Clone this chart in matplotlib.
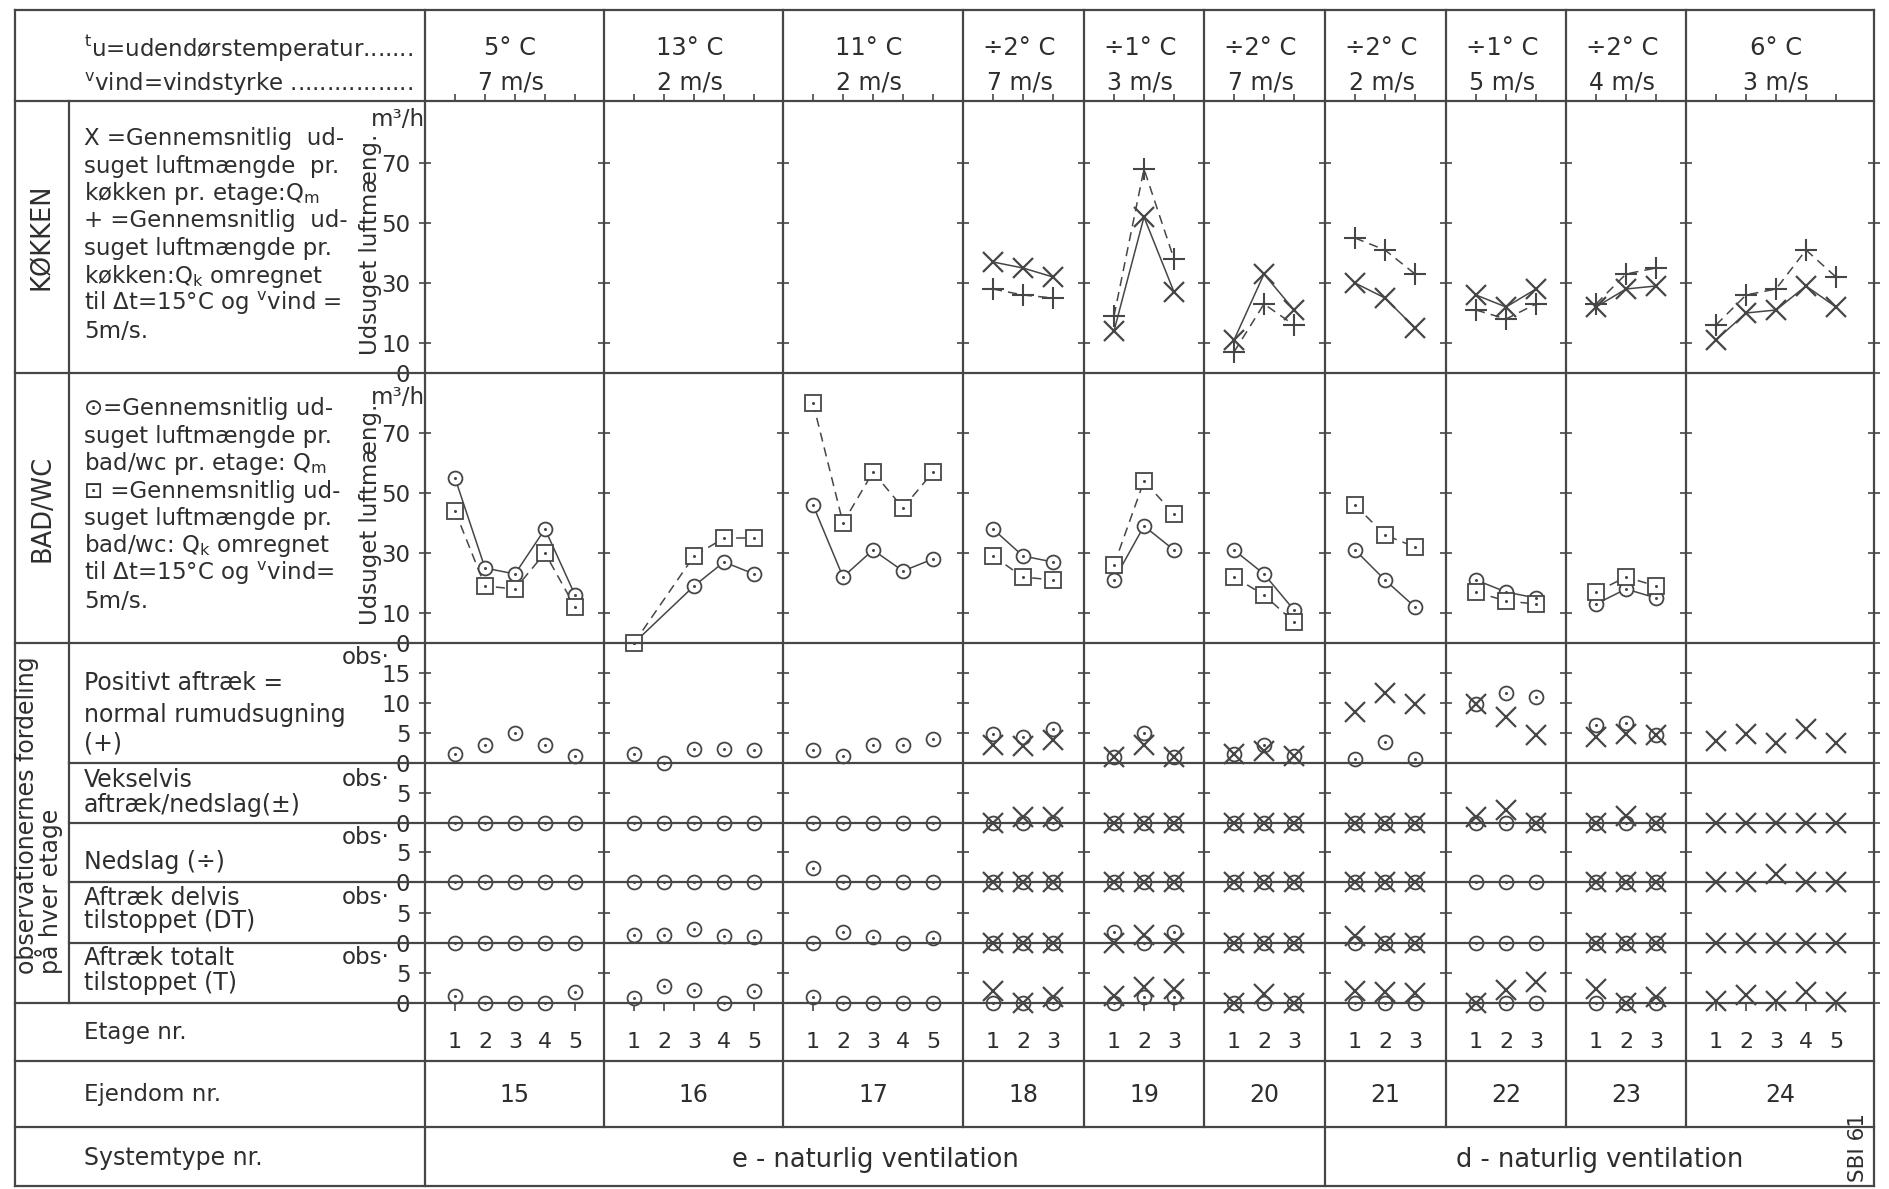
import numpy as np
import matplotlib
matplotlib.use("Agg")
import matplotlib.pyplot as plt
from matplotlib.lines import Line2D

plt.rcParams['font.family'] = ['DejaVu Sans']
plt.rcParams['mathtext.fontset'] = 'dejavusans'

# ------------------------------------------------------------------ data
properties = [15, 16, 17, 18, 19, 20, 21, 22, 23, 24]
floor_counts = [5, 5, 5, 3, 3, 3, 3, 3, 3, 5]
outdoor_temps = ["5° C", "13° C", "11° C", "÷2° C", "÷1° C",
                 "÷2° C", "÷2° C", "÷1° C", "÷2° C", "6° C"]
wind_speeds = ["7 m/s", "2 m/s", "2 m/s", "7 m/s", "3 m/s",
               "7 m/s", "2 m/s", "5 m/s", "4 m/s", "3 m/s"]
system_types = ["e - naturlig ventilation", "d - naturlig ventilation"]
system_first_col = [0, 6]

# kitchen, m3/h per floor (X = measured Qm, + = corrected Qk)
kitchen_qm = [None, None, None, [37, 35, 32], [14, 52, 27], [11, 33, 21],
              [30, 25, 15], [26, 22, 28], [22, 28, 29], [11, 20, 21, 29, 22]]
kitchen_qk = [None, None, None, [28, 26, 25], [19, 68, 38], [7, 23, 16],
              [45, 41, 33], [21, 18, 23], [23, 33, 35], [16, 26, 28, 41, 32]]

# bath/wc, m3/h per floor (circle = measured Qm, square = corrected Qk)
bath_qm = [[55, 25, 23, 38, 16], [0, None, 19, 27, 23], [46, 22, 31, 24, 28],
           [38, 29, 27], [21, 39, 31], [31, 23, 11], [31, 21, 12],
           [21, 17, 15], [13, 18, 15], None]
bath_qk = [[44, 19, 18, 30, 12], [0, None, 29, 35, 35], [80, 40, 57, 45, 57],
           [29, 22, 21], [26, 54, 43], [22, 16, 7], [46, 36, 32],
           [17, 14, 13], [17, 22, 19], None]

# observation counts per floor: bath (circle) and kitchen (X)
pos_bath = [[1.5, 3, 5, 3, 1.2], [1.5, 0, 2.3, 2.3, 2.2], [2.1, 1.2, 3, 3, 4],
            [4.8, 4.3, 5.7], [1, 5, 1], [1.5, 3, 1.2], [0.7, 3.5, 0.6],
            [9.8, 11.6, 11], [6.3, 6.7, 4.7], None]
pos_kitchen = [None, None, None, [3, 2.8, 3.8], [1, 3, 1], [1.5, 2, 1.2],
               [8.5, 11.6, 9.8], [9.8, 7.7, 4.7], [4.4, 4.9, 4.7],
               [3.6, 4.8, 3.4, 5.6, 3.3]]
alt_bath = [[0, 0, 0, 0, 0], [0, 0, 0, 0, 0], [0, 0, 0, 0, 0], [0, 0, 0],
            [0, 0, 0], [0, 0, 0], [0, 0, 0], [0, 0, 0], [0, 0, 0], None]
alt_kitchen = [None, None, None, [0, 1, 1], [0, 0, 0], [0, 0, 0], [0, 0, 0],
               [1, 2.2, 0], [0, 1.2, 0], [0, 0, 0, 0, 0]]
down_bath = [[0, 0, 0, 0, 0], [0, 0, 0, 0, 0], [2.4, 0, 0, 0, 0], [0, 0, 0],
             [0, 0, 0], [0, 0, 0], [0, 0, 0], [0, 0, 0], [0, 0, 0], None]
down_kitchen = [None, None, None, [0, 0, 0], [0, 0, 0], [0, 0, 0], [0, 0, 0],
                None, [0, 0, 0], [0, 0, 1.3, 0, 0]]
part_bath = [[0, 0, 0, 0, 0], [1.3, 1.4, 2.3, 1.1, 1], [0, 1.9, 1, 0, 0.9],
             [0, 0, 0], [1.8, 0, 1.8], [0, 0, 0], [0, 0, 0], [0, 0, 0],
             [0, 0, 0], None]
part_kitchen = [None, None, None, [0, 0, 0], [0, 1.3, 0], [0, 0, 0],
                [1.2, 0, 0], None, [0, 0, 0], [0, 0, 0, 0, 0]]
full_bath = [[1.2, 0, 0, 0, 1.8], [0.9, 2.8, 2.1, 0, 2], [1, 0, 0, 0, 0],
             [0, 0, 0], [0, 1, 1], [0, 0, 0], [0, 0, 0], [0, 0, 0],
             [0, 0, 0], None]
full_kitchen = [None, None, None, [2, 0, 1], [1.2, 2.6, 2.4], [0, 1.5, 0],
                [2, 1.8, 1.6], [0, 2.2, 3.5], [2.4, 0, 1],
                [0.3, 1.4, 0.3, 1.9, 0.2]]

# ---------------------------------------------------------------- layout
W, H = 1890, 1189
LC = '#464646'      # rule / mark colour
TC = '#2e2e2e'      # lettering colour
LW = 1.6
X_OUT, X_IN, X_DATA, X_RIGHT = 15, 69, 425, 1874
COL_EDGES = [425, 604, 783, 963, 1084, 1204, 1325, 1446, 1566, 1686, 1874]
Y_TOP, Y_HEAD = 10, 101
ROW_EDGES = [101, 373, 643, 763, 823, 882, 943, 1003]
Y_ETAGE, Y_EJD, Y_BOT = 1061, 1127, 1186
PX_FLOOR = 30.0

fig = plt.figure(figsize=(W / 100, H / 100), dpi=100)
fig.patch.set_facecolor('white')


def fx(x):
    return x / W


def fy(y):
    return 1 - y / H


def hline(y, x0, x1, lw=LW):
    fig.add_artist(Line2D([fx(x0), fx(x1)], [fy(y), fy(y)],
                          transform=fig.transFigure, color=LC, lw=lw))


def vline(x, y0, y1, lw=LW):
    fig.add_artist(Line2D([fx(x), fx(x)], [fy(y0), fy(y1)],
                          transform=fig.transFigure, color=LC, lw=lw))


def put(x, y, s, size=16, **kw):
    kw.setdefault('color', TC)
    fig.text(fx(x), fy(y), s, fontsize=size, **kw)


# table rules
for y in [Y_TOP, Y_HEAD, ROW_EDGES[1], ROW_EDGES[2], ROW_EDGES[7],
          Y_ETAGE, Y_EJD, Y_BOT]:
    hline(y, X_OUT, X_RIGHT)
for y in ROW_EDGES[3:7]:
    hline(y, X_IN, X_RIGHT)
vline(X_OUT, Y_TOP, Y_BOT)
vline(X_IN, Y_HEAD, ROW_EDGES[7])
vline(X_DATA, Y_TOP, Y_BOT)
vline(X_RIGHT, Y_TOP, Y_BOT)
for x in COL_EDGES[1:-1]:
    vline(x, Y_TOP, Y_EJD)
vline(COL_EDGES[system_first_col[1]], Y_EJD, Y_BOT)

# ----------------------------------------------------------- mark styles
def clean(floors, vals):
    v = np.array(vals, dtype=float)
    f = np.asarray(floors)
    m = ~np.isnan(v)
    return f[m], v[m]


def plot_x(ax, f, v, line):
    ax.plot(f, v, color=LC, lw=1.1 if line else 0, ls='-', marker='x',
            ms=14, mew=1.6, clip_on=False, zorder=5)


def plot_plus(ax, f, v):
    ax.plot(f, v, color=LC, lw=1.1, ls=(0, (6, 4)), marker='+',
            ms=16, mew=1.5, clip_on=False, zorder=4)


def plot_circle(ax, f, v, line):
    if line:
        ax.plot(f, v, color=LC, lw=1.1, ls='-', clip_on=False, zorder=2)
    ax.plot(f, v, ls='none', marker='o', ms=10, mew=1.3, mec=LC,
            mfc='white', clip_on=False, zorder=3)
    ax.plot(f, v, ls='none', marker='o', ms=2.2, mew=0, mfc=LC,
            clip_on=False, zorder=4)


def plot_square(ax, f, v):
    ax.plot(f, v, color=LC, lw=1.1, ls=(0, (6, 4)), clip_on=False, zorder=2)
    ax.plot(f, v, ls='none', marker='s', ms=12, mew=1.3, mec=LC,
            mfc='white', clip_on=False, zorder=3)
    ax.plot(f, v, ls='none', marker='o', ms=2.2, mew=0, mfc=LC,
            clip_on=False, zorder=4)


# rows: (top, bottom, px per unit, y ticks, bath data, kitchen data, kind)
rows = [
    (ROW_EDGES[0], ROW_EDGES[1], 3.0, [0, 10, 30, 50, 70], kitchen_qm, kitchen_qk, 'kitchen'),
    (ROW_EDGES[1], ROW_EDGES[2], 3.0, [0, 10, 30, 50, 70], bath_qm, bath_qk, 'bath'),
    (ROW_EDGES[2], ROW_EDGES[3], 6.0, [0, 5, 10, 15], pos_bath, pos_kitchen, 'obs'),
    (ROW_EDGES[3], ROW_EDGES[4], 6.0, [0, 5], alt_bath, alt_kitchen, 'obs'),
    (ROW_EDGES[4], ROW_EDGES[5], 6.0, [0, 5], down_bath, down_kitchen, 'obs'),
    (ROW_EDGES[5], ROW_EDGES[6], 6.0, [0, 5], part_bath, part_kitchen, 'obs'),
    (ROW_EDGES[6], ROW_EDGES[7], 6.0, [0, 5], full_bath, full_kitchen, 'obs'),
]

ncol = len(properties)
for ri, (r0, r1, ppu, yt, d1, d2, kind) in enumerate(rows):
    for ci in range(ncol):
        x0, x1 = COL_EDGES[ci], COL_EDGES[ci + 1]
        ax = fig.add_axes([fx(x0), fy(r1), (x1 - x0) / W, (r1 - r0) / H])
        ax.set_xlim(0, (x1 - x0) / PX_FLOOR)
        ax.set_ylim(0, (r1 - r0) / ppu)
        ax.patch.set_visible(False)
        for s in ax.spines.values():
            s.set_visible(False)
        floors = np.arange(1, floor_counts[ci] + 1)
        ax.set_yticks(yt)
        ax.set_yticklabels([str(t) for t in yt])
        ax.tick_params(axis='y', left=True, right=(ci == ncol - 1),
                       direction='inout', length=9, width=1.2, color=LC,
                       labelleft=(ci == 0), labelsize=16.5, labelcolor=TC,
                       pad=6)
        ax.set_xticks(floors)
        ax.set_xticklabels([str(f) for f in floors])
        first, last = ri == 0, ri == len(rows) - 1
        ax.tick_params(axis='x', top=first, bottom=last, direction='out',
                       length=5 if first else 6, width=1.2, color=LC,
                       labeltop=False, labelbottom=last, labelsize=16,
                       labelcolor=TC, pad=15)

        if kind == 'kitchen':
            if d1[ci] is not None:
                plot_x(ax, *clean(floors, d1[ci]), True)
            if d2[ci] is not None:
                plot_plus(ax, *clean(floors, d2[ci]))
        elif kind == 'bath':
            if d1[ci] is not None:
                plot_circle(ax, *clean(floors, d1[ci]), True)
            if d2[ci] is not None:
                plot_square(ax, *clean(floors, d2[ci]))
        else:
            if d1[ci] is not None:
                plot_circle(ax, *clean(floors, d1[ci]), False)
            if d2[ci] is not None:
                plot_x(ax, *clean(floors, d2[ci]), False)

# ------------------------------------------------------------- lettering
put(84, 48, r"$^{\mathregular{t}}$u=udendørstemperatur.......", 16.5, va='center')
put(84, 84, r"$^{\mathregular{v}}$vind=vindstyrke .................", 16.5, va='center')
for ci in range(ncol):
    xc = (COL_EDGES[ci] + COL_EDGES[ci + 1]) / 2 - 4
    put(xc, 48, outdoor_temps[ci], 17.5, ha='center', va='center')
    put(xc, 82, wind_speeds[ci], 17, ha='center', va='center')

put(42, 237, "KØKKEN", 18.5, rotation=90, ha='center', va='center')
put(42, 508, "BAD/WC", 18.5, rotation=90, ha='center', va='center')
put(39, 815, "observationernes fordeling\npå hver etage", 17,
    rotation=90, ha='center', va='center', multialignment='left',
    linespacing=0.82)

kitchen_text = ["X =Gennemsnitlig  ud-",
                "suget luftmængde  pr.",
                r"køkken pr. etage:Q$_\mathregular{m}$",
                "+ =Gennemsnitlig  ud-",
                "suget luftmængde pr.",
                r"køkken:Q$_\mathregular{k}$ omregnet",
                r"til Δt=15°C og $^{\mathregular{v}}$vind =",
                "5m/s."]
bath_text = ["⊙=Gennemsnitlig ud-",
             "suget luftmængde pr.",
             r"bad/wc pr. etage: Q$_\mathregular{m}$",
             "⊡ =Gennemsnitlig ud-",
             "suget luftmængde pr.",
             r"bad/wc: Q$_\mathregular{k}$ omregnet",
             r"til Δt=15°C og $^{\mathregular{v}}$vind=",
             "5m/s."]
for i, s in enumerate(kitchen_text):
    put(84, 137 + 27.5 * i + 8, s, 16.5, va='baseline')
for i, s in enumerate(bath_text):
    put(84, 407 + 27.5 * i + 8, s, 16.5, va='baseline')

for r0, r1, top in [(ROW_EDGES[0], ROW_EDGES[1], 119),
                    (ROW_EDGES[1], ROW_EDGES[2], 397)]:
    put(398, top, "m³/h", 16.5, ha='center', va='center')
    put(371, r1 - 18, "Udsuget luftmæng.", 16.5, rotation=90,
        ha='center', va='bottom')

obs_labels = [(["Positivt aftræk =", "normal rumudsugning", "(+)"],
               [683, 715, 743], 658),
              (["Vekselvis", "aftræk/nedslag(±)"], [780, 805], 780),
              (["Nedslag (÷)"], [862], 837),
              (["Aftræk delvis", "tilstoppet (DT)"], [898, 921], 898),
              (["Aftræk totalt", "tilstoppet (T)"], [958, 983], 958)]
for lines, ys, yobs in obs_labels:
    for s, y in zip(lines, ys):
        put(84, y, s, 17, va='center')
    put(390, yobs, "obs·", 16.5, ha='right', va='center')

put(84, 1032, "Etage nr.", 16.5, va='center')
put(84, 1095, "Ejendom nr.", 16.5, va='center')
put(84, 1158, "Systemtype nr.", 17, va='center')
for ci, p in enumerate(properties):
    xc = (COL_EDGES[ci] + COL_EDGES[ci + 1]) / 2
    put(xc, 1095, str(p), 17, ha='center', va='center')
bounds = system_first_col + [ncol]
for k, s in enumerate(system_types):
    xa, xb = COL_EDGES[bounds[k]], COL_EDGES[bounds[k + 1]]
    put((xa + xb) / 2, 1160, s, 18.5, ha='center', va='center')
put(1858, 1148, "SBI 61", 15.5, rotation=90, ha='center', va='center')

fig.savefig("out.png", dpi=100, facecolor='white')
